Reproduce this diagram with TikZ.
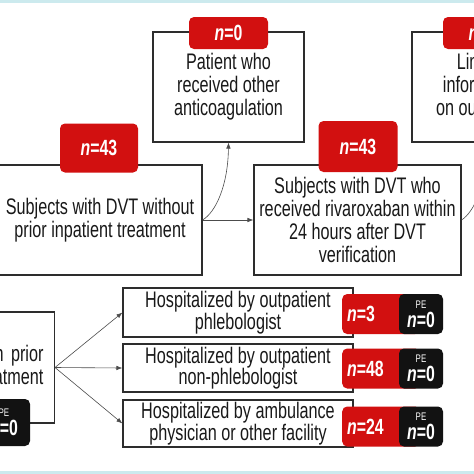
\documentclass[tikz,border=0pt]{standalone}
\usepackage{fontspec}
\setmainfont{Liberation Sans}[FakeStretch=0.72]
\usetikzlibrary{arrows.meta,positioning}
\definecolor{tagred}{RGB}{210,16,16}
\definecolor{tagblack}{RGB}{18,18,18}
\definecolor{frame}{RGB}{45,45,45}
\definecolor{band}{RGB}{204,234,238}
\definecolor{textgray}{RGB}{25,25,25}

\begin{document}
\begin{tikzpicture}[x=1pt, y=-1pt,
  box/.style={draw=frame, line width=1.1pt, fill=white, align=center,
    text=textgray, inner sep=0pt, font=\fontsize{22.5}{23}\selectfont},
  smallbox/.style={box, minimum width=230, font=\fontsize{22.5}{21.5}\selectfont},
  ntag/.style={fill=tagred, rounded corners=5pt, text=white, inner sep=0pt,
    font=\fontsize{22}{21}\selectfont\bfseries},
  sidetag/.style={ntag, anchor=west, inner xsep=5pt, text width=68pt,
    align=left, minimum height=40},
  petag/.style={fill=tagblack, rounded corners=5pt, text=white, align=center,
    inner sep=0pt, minimum width=44, minimum height=40,
    font=\fontsize{22}{18}\selectfont\bfseries},
  arr/.style={-{Latex[length=6pt,width=4.5pt]}, line width=0.6pt, draw=frame!85},
]
  \useasboundingbox (0,0) rectangle (474,474);
  \clip (0,0) rectangle (474,474);
  \fill[white] (0,0) rectangle (474,474);
  \fill[band] (0,0) rectangle (474,3);
  \fill[band] (0,471) rectangle (474,474);

  \node[box, minimum width=151, minimum height=110] (other) at (228.5,87)
    {Patient who\\received other\\anticoagulation};
  \node[box, minimum width=142, minimum height=110] (limited) at (483,87)
    {Limited\\information\\on outpatient};
  \node[box, minimum width=204, minimum height=110] (without) at (100,220)
    {Subjects with DVT without\\prior inpatient treatment};
  \node[box, minimum width=207, minimum height=110] (rivaro) at (357.5,220)
    {Subjects with DVT who\\received rivaroxaban within\\24 hours after DVT\\verification};
  \node[box, anchor=east, minimum height=111, text width=200pt, align=right,
    inner xsep=11pt] (prior) at (55,367.5)
    {hospitalization prior\\to outpatient treatment};

  \node[ntag, minimum width=79, minimum height=32] (otherN) at (228.5,33) {\textit{n}=0};
  \node[ntag, minimum width=79, minimum height=32] (limitedN) at (482.5,33) {\textit{n}=0};
  \node[ntag, minimum width=78, minimum height=49] (withoutN) at (99,148) {\textit{n}=43};
  \node[ntag, minimum width=79, minimum height=51] (rivaroN) at (358,146.5) {\textit{n}=43};
  \node[petag, minimum width=52, minimum height=47] (priorPE) at (4,422.5)
    {{\fontsize{11}{11}\selectfont\mdseries PE}\\[1pt]\textit{n}=0};

  \node[smallbox, minimum height=49] (phleb) at (238,312.5)
    {Hospitalized by outpatient\\phlebologist};
  \node[smallbox, minimum height=48] (nonphleb) at (238,368)
    {Hospitalized by outpatient\\non-phlebologist};
  \node[smallbox, minimum height=47] (ambul) at (238,423.5)
    {Hospitalized by ambulance\\physician or other facility};

  \node[sidetag] (phlebN) at (342,314) {\textit{n}=3};
  \node[sidetag] (nonphlebN) at (342,368.5) {\textit{n}=48};
  \node[sidetag] (ambulN) at (342,426.5) {\textit{n}=24};
  \node[petag] (phlebPE) at (421,314)
    {{\fontsize{11}{11}\selectfont\mdseries PE}\\[1pt]\textit{n}=0};
  \node[petag] (nonphlebPE) at (421,368.5)
    {{\fontsize{11}{11}\selectfont\mdseries PE}\\[1pt]\textit{n}=0};
  \node[petag] (ambulPE) at (421,426.5)
    {{\fontsize{11}{11}\selectfont\mdseries PE}\\[1pt]\textit{n}=0};

  \draw[arr] (without.east) -- (rivaro.west);
  \draw[arr] (without.east) .. controls (216,212) and (228,185) .. (other.south);
  \draw[arr] (rivaro.east) .. controls (474,212) and (487,185) .. (limited.south);

  \draw[arr] (prior.east) -- (phleb.west);
  \draw[arr] (prior.east) -- (nonphleb.west);
  \draw[arr] (prior.east) -- (ambul.west);
\end{tikzpicture}
\end{document}
